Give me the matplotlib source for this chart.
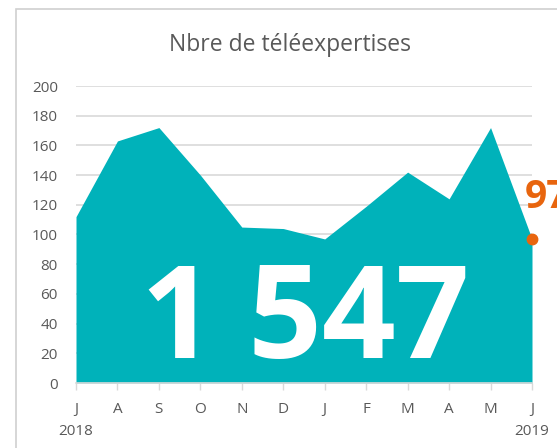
import matplotlib
matplotlib.use("Agg")
import matplotlib.pyplot as plt
from matplotlib.patches import Rectangle

months = ["J", "A", "S", "O", "N", "D", "J", "F", "M", "A", "M", "J"]
values = [112, 163, 172, 140, 105, 104, 97, 119, 142, 124, 172, 97]
year_labels = {0: "2018", 11: "2019"}
total_label = "1 547"
title = "Nbre de téléexpertises"
yticks = list(range(0, 201, 20))

TEAL = "#00B2BA"
ORANGE = "#E8650E"
GRAY_TXT = "#595959"
GRID = "#D9D9D9"

plt.rcParams['font.family'] = ['Open Sans', 'DejaVu Sans']

W, H = 557, 448
fig = plt.figure(figsize=(W / 100, H / 100), dpi=100)

# chart border (cropped frame)
fig.add_artist(Rectangle((16 / W, -0.5), 2.0, (H - 9) / H + 0.5,
                         transform=fig.transFigure, fill=False,
                         edgecolor="#D0D0D0", linewidth=1.2))

ax = fig.add_axes([76 / W, 65 / H, (532 - 76) / W, (383 - 86) / H])
x = list(range(len(values)))
ax.fill_between(x, values, 0, color=TEAL, linewidth=0, zorder=2)
ax.set_xlim(0, len(values) - 1)
ax.set_ylim(0, 200)
ax.set_yticks(yticks)
ax.yaxis.grid(True, color=GRID, linewidth=1.2, zorder=0)
ax.set_axisbelow(True)
for s in ["left", "right", "top"]:
    ax.spines[s].set_visible(False)
ax.spines["bottom"].set_color(GRID)
ax.spines["bottom"].set_linewidth(1.2)
ax.spines["bottom"].set_zorder(3)
ax.tick_params(axis="y", length=0, pad=13, labelsize=11, labelcolor=GRAY_TXT)
ax.set_xticks(x)
ax.set_xticklabels(months)
ax.tick_params(axis="x", length=5, width=1, color=GRID, pad=9,
               labelsize=11, labelcolor=GRAY_TXT)

for i, lab in year_labels.items():
    ax.annotate(lab, xy=(i, 0), xycoords="data", xytext=(0, -48),
                textcoords="offset pixels", ha="center", va="center",
                fontsize=11, color=GRAY_TXT, annotation_clip=False)

# last point marker and label
last = len(values) - 1
ax.plot([last], [values[last]], "o", color=ORANGE, markersize=7.5,
        clip_on=False, zorder=5)
ax.annotate(str(values[last]), xy=(last, values[last]), xycoords="data",
            xytext=(-7, 31), textcoords="offset pixels", ha="left",
            va="baseline", fontsize=28, fontweight="bold", color=ORANGE,
            annotation_clip=False)

# big total
ax.text(5.52, 16.5, total_label, ha="center", va="baseline", fontsize=93,
        fontweight="bold", color="white", zorder=4)

fig.text(290 / W, 1 - 45 / H, title, ha="center", va="center",
         fontsize=16.5, color=GRAY_TXT)

fig.savefig("out.png", dpi=100)
